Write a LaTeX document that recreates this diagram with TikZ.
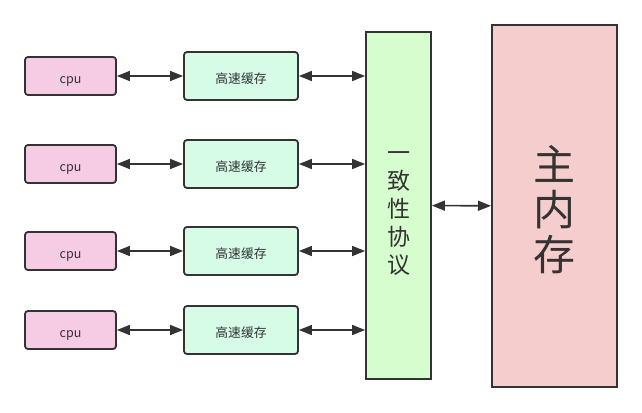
\documentclass[tikz,border=0pt]{standalone}
\usepackage{fontspec}
\setmainfont{Noto Sans CJK SC}
\usetikzlibrary{arrows.meta}

\definecolor{cpupink}{HTML}{F5CCE4}
\definecolor{cachegreen}{HTML}{D6FCE8}
\definecolor{protogreen}{HTML}{D6FDCD}
\definecolor{mempink}{HTML}{F5CDCC}
\definecolor{edgegray}{HTML}{333333}

\begin{document}
\begin{tikzpicture}[x=1pt, y=-1pt,
  cpubox/.style = {draw = edgegray, line width = 1.8pt, fill = cpupink, rounded corners = 3pt, minimum width = 91pt, minimum height = 38pt, inner sep = 0pt, text height = 1.6em, text depth = 0.2em, font = \fontsize{12.5}{14}\selectfont, text = edgegray},
  cachebox/.style = {draw = edgegray, line width = 1.8pt, fill = cachegreen, rounded corners = 3pt, minimum width = 114pt, minimum height = 48pt, inner sep = 0pt, text height = 1.5em, text depth = 0.1em, font = \fontsize{12.8}{14}\selectfont, text = edgegray},
  link/.style = {draw = edgegray, line width = 1.6pt, {Triangle[length=13pt, width=10pt]}-{Triangle[length=13pt, width=10pt]}}]
\useasboundingbox (0,0) rectangle (642,412);
\node[draw = edgegray, line width = 1.8pt, fill = protogreen, minimum width = 65pt, minimum height = 347pt, inner sep = 0pt,
  label = {[align = center, font = \fontsize{23}{28}\selectfont, text = edgegray, yshift = -8pt]center:一\\致\\性\\协\\议}] (proto) at (398.5,205.5) {};
\node[draw = edgegray, line width = 2pt, fill = mempink, minimum width = 125pt, minimum height = 362pt, inner sep = 0pt,
  label = {[align = center, font = \fontsize{42}{45}\selectfont, text = edgegray, yshift = -4pt]center:主\\内\\存}] (mem) at (554.5,206) {};
% cpus and caches
\node[cpubox] (cpu1) at (70.5,76) {cpu};
\node[cpubox] (cpu2) at (70.5,164) {cpu};
\node[cpubox] (cpu3) at (70.5,251) {cpu};
\node[cpubox] (cpu4) at (70.5,330) {cpu};
\node[cachebox] (cache1) at (241,76) {高速缓存};
\node[cachebox] (cache2) at (241,164) {高速缓存};
\node[cachebox] (cache3) at (241,251) {高速缓存};
\node[cachebox] (cache4) at (241,330) {高速缓存};
\draw[link] (cpu1) -- (cache1);
\draw[link] (cpu2) -- (cache2);
\draw[link] (cpu3) -- (cache3);
\draw[link] (cpu4) -- (cache4);
\draw[link] (cache1.east) -- (cache1.east -| proto.west);
\draw[link] (cache2.east) -- (cache2.east -| proto.west);
\draw[link] (cache3.east) -- (cache3.east -| proto.west);
\draw[link] (cache4.east) -- (cache4.east -| proto.west);
\draw[link] (proto) -- (mem);
\end{tikzpicture}
\end{document}
